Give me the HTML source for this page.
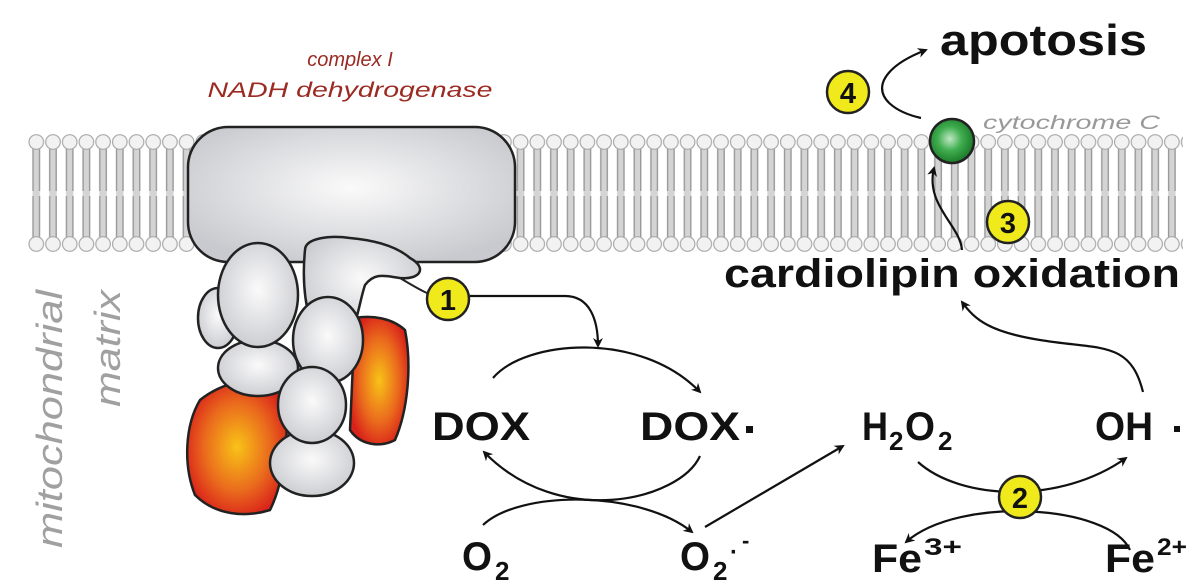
<!DOCTYPE html>
<html><head><meta charset="utf-8"><style>
html,body{margin:0;padding:0;background:#fff;}
svg{display:block;}
.b{font-family:"Liberation Sans",Arial,sans-serif;font-weight:bold;fill:#111;}
</style></head><body>
<svg width="1200" height="588" viewBox="0 0 1200 588" xmlns="http://www.w3.org/2000/svg">
<defs>
<pattern id="lip" x="28" y="0" width="16.7" height="588" patternUnits="userSpaceOnUse">
  <rect x="4.5" y="148" width="7.5" height="90" fill="#d4d4d4"/>
  <line x1="5" y1="148" x2="5" y2="191" stroke="#999" stroke-width="1.4"/>
  <line x1="11.5" y1="148" x2="11.5" y2="191" stroke="#999" stroke-width="1.4"/>
  <line x1="5" y1="196" x2="5" y2="238" stroke="#999" stroke-width="1.4"/>
  <line x1="11.5" y1="196" x2="11.5" y2="238" stroke="#999" stroke-width="1.4"/>
  <circle cx="8.3" cy="142" r="7.3" fill="#f2f2f2" stroke="#aaa" stroke-width="1.2"/>
  <circle cx="8.3" cy="244" r="7.3" fill="#f2f2f2" stroke="#aaa" stroke-width="1.2"/>
</pattern>
<radialGradient id="gr" cx="50%" cy="45%" r="60%">
  <stop offset="0" stop-color="#fafafa"/><stop offset="1" stop-color="#c9cacf"/>
</radialGradient>
<radialGradient id="red" cx="50%" cy="50%" r="55%">
  <stop offset="0" stop-color="#f8c317"/><stop offset="0.6" stop-color="#ea6a1d"/><stop offset="1" stop-color="#d9221a"/>
</radialGradient>
<radialGradient id="grn" cx="45%" cy="45%" r="55%">
  <stop offset="0" stop-color="#bfe8c4"/><stop offset="0.5" stop-color="#3fae4f"/><stop offset="1" stop-color="#1c7b2a"/>
</radialGradient>
<marker id="ar" markerWidth="10" markerHeight="10" refX="8" refY="5" orient="auto" markerUnits="userSpaceOnUse">
  <path d="M0,0 L10,5 L0,10 L3,5 z" fill="#111"/>
</marker>
</defs>

<rect x="28" y="130" width="1155" height="124" fill="url(#lip)"/>

<g stroke="#222" stroke-width="2.5">
  <path d="M355,318 C372,315 392,318 405,330 C412,365 408,410 395,440 C380,448 360,445 350,430 Z" fill="url(#red)"/>
  <path d="M200,400 C225,380 260,375 285,385 C290,430 285,480 270,510 C245,518 215,515 195,495 C183,465 185,425 200,400 Z" fill="url(#red)"/>
  <rect x="188" y="127" width="327" height="135" rx="40" ry="40" fill="url(#gr)"/>
  <ellipse cx="218" cy="318" rx="20" ry="30" fill="url(#gr)"/>
  <ellipse cx="258" cy="368" rx="40" ry="28" fill="url(#gr)"/>
  <ellipse cx="258" cy="295" rx="40" ry="52" fill="url(#gr)"/>
  <path d="M305,250 C305,238 330,235 350,238 C372,240 395,245 410,258 C428,268 420,280 400,278 C385,276 375,272 365,285 C360,300 358,318 352,330 L310,320 C303,295 303,270 305,250 Z" fill="url(#gr)"/>
  <ellipse cx="328" cy="340" rx="35" ry="43" fill="url(#gr)"/>
  <ellipse cx="312" cy="463" rx="42" ry="33" fill="url(#gr)"/>
  <ellipse cx="312" cy="405" rx="34" ry="38" fill="url(#gr)"/>
</g>
<path d="M400,278 C420,290 430,296 448,300" fill="none" stroke="#222" stroke-width="2"/>

<text x="350" y="66" text-anchor="middle" font-family="Liberation Sans,Arial,sans-serif" font-style="italic" font-size="20" fill="#9b2a22">complex I</text>
<text x="350" y="97" text-anchor="middle" font-family="Liberation Sans,Arial,sans-serif" font-style="italic" font-size="21" fill="#9b2a22" textLength="285" lengthAdjust="spacingAndGlyphs">NADH dehydrogenase</text>
<text class="b" x="940" y="55" font-size="44" textLength="207" lengthAdjust="spacingAndGlyphs">apotosis</text>
<text x="983" y="129" font-family="Liberation Sans,Arial,sans-serif" font-style="italic" font-size="19" fill="#999" textLength="177" lengthAdjust="spacingAndGlyphs">cytochrome C</text>
<text class="b" x="724" y="287" font-size="40" textLength="456" lengthAdjust="spacingAndGlyphs">cardiolipin oxidation</text>

<text transform="translate(62,548) rotate(-90)" font-family="Liberation Sans,Arial,sans-serif" font-style="italic" font-size="36" fill="#a0a0a0" textLength="258" lengthAdjust="spacingAndGlyphs">mitochondrial</text>
<text transform="translate(120,407) rotate(-90)" font-family="Liberation Sans,Arial,sans-serif" font-style="italic" font-size="36" fill="#a0a0a0" textLength="117" lengthAdjust="spacingAndGlyphs">matrix</text>

<circle cx="952" cy="141" r="22" fill="url(#grn)" stroke="#222" stroke-width="2.5"/>

<g fill="none" stroke="#111" stroke-width="2.2" marker-end="url(#ar)">
  <path d="M921,118 C895,112 876,98 884,80 C890,68 905,58 926,50"/>
  <path d="M962,250 C960,225 925,205 934,168"/>
  <path d="M470,296 L565,296 C590,296 598,320 598,346"/>
  <path d="M493,378 C525,340 640,330 700,392"/>
  <path d="M700,456 C680,500 560,530 484,452"/>
  <path d="M483,525 C520,490 640,490 692,532"/>
  <path d="M705,527 L843,446"/>
  <path d="M918,462 C960,500 1060,505 1126,458"/>
  <path d="M1130,550 C1110,505 960,495 906,542"/>
  <path d="M1143,392 C1130,340 1100,350 1040,340 C990,332 975,320 962,302"/>
</g>

<g stroke="#222" stroke-width="2.5" fill="#f0ea1c">
  <circle cx="448" cy="299" r="21"/>
  <circle cx="1020" cy="497" r="21"/>
  <circle cx="1008" cy="222" r="21"/>
  <circle cx="848" cy="92" r="21"/>
</g>
<g class="b" font-size="29" text-anchor="middle">
  <text x="448" y="310">1</text>
  <text x="1020" y="508">2</text>
  <text x="1008" y="233">3</text>
  <text x="848" y="103">4</text>
</g>

<g class="b" font-size="40">
  <text x="432" y="440" textLength="98" lengthAdjust="spacingAndGlyphs">DOX</text>
  <text x="640" y="440" textLength="100" lengthAdjust="spacingAndGlyphs">DOX</text>
  <rect x="746" y="426" width="7" height="7" fill="#111"/>
  <text x="862" y="440" textLength="26" lengthAdjust="spacingAndGlyphs">H</text>
  <text x="889" y="450" font-size="26">2</text>
  <text x="905" y="440" textLength="30" lengthAdjust="spacingAndGlyphs">O</text>
  <text x="938" y="450" font-size="26">2</text>
  <text x="1095" y="440" textLength="58" lengthAdjust="spacingAndGlyphs">OH</text>
  <rect x="1174" y="426" width="6" height="6" fill="#111"/>
  <text x="462" y="570" textLength="30" lengthAdjust="spacingAndGlyphs">O</text>
  <text x="495" y="580" font-size="26">2</text>
  <text x="680" y="570" textLength="30" lengthAdjust="spacingAndGlyphs">O</text>
  <text x="713" y="580" font-size="26">2</text>
  <text x="730" y="560" font-size="24">·</text>
  <text x="742" y="548" font-size="22">-</text>
  <text x="872" y="572" textLength="50" lengthAdjust="spacingAndGlyphs">Fe</text>
  <text x="924" y="555" font-size="24" textLength="38" lengthAdjust="spacingAndGlyphs">3+</text>
  <text x="1105" y="572" textLength="50" lengthAdjust="spacingAndGlyphs">Fe</text>
  <text x="1157" y="555" font-size="24" textLength="30" lengthAdjust="spacingAndGlyphs">2+</text>
</g>
</svg>
</body></html>
